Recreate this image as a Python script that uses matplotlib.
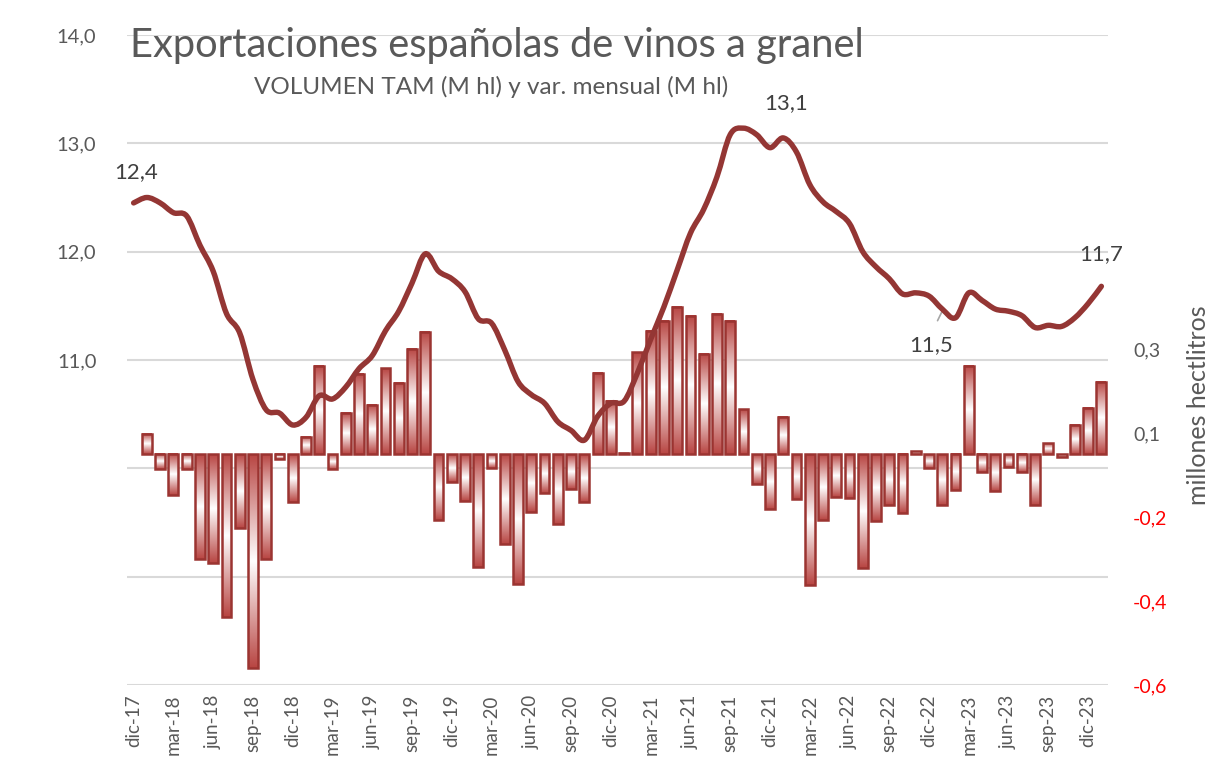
import numpy as np
import matplotlib
matplotlib.use("Agg")
import matplotlib.pyplot as plt
from matplotlib.path import Path
from matplotlib.patches import PathPatch, Rectangle
from matplotlib.colors import LinearSegmentedColormap

plt.rcParams['font.family'] = ['Lato', 'DejaVu Sans']

# categorias mensuales dic-17 ... ene-24
meses = ['ene', 'feb', 'mar', 'abr', 'may', 'jun', 'jul', 'ago', 'sep', 'oct', 'nov', 'dic']
categorias = ['dic-17'] + [f'{m}-{a}' for a in range(18, 24) for m in meses] + ['ene-24']

# volumen TAM (M hl), eje izquierdo
tam = [12.45, 12.50, 12.45, 12.36, 12.33, 12.06, 11.82, 11.43, 11.25, 10.82,
       10.54, 10.51, 10.40, 10.47, 10.67, 10.64, 10.75, 10.92, 11.04, 11.27,
       11.45, 11.71, 11.98, 11.82, 11.75, 11.63, 11.38, 11.34, 11.09, 10.80,
       10.68, 10.60, 10.43, 10.35, 10.26, 10.48, 10.60, 10.62, 10.88, 11.19,
       11.49, 11.83, 12.17, 12.39, 12.69, 13.08, 13.14, 13.08, 12.96, 13.05,
       12.92, 12.62, 12.46, 12.37, 12.26, 12.00, 11.86, 11.75, 11.61, 11.62,
       11.59, 11.47, 11.39, 11.62, 11.55, 11.47, 11.45, 11.41, 11.30, 11.32,
       11.31, 11.39, 11.52, 11.68]

# variacion mensual (M hl), eje derecho
var_mensual = [np.nan, 0.048, -0.036, -0.098, -0.036, -0.249, -0.259, -0.387, -0.176, -0.510,
               -0.249, -0.012, -0.114, 0.041, 0.211, -0.035, 0.099, 0.191, 0.117, 0.205,
               0.171, 0.251, 0.292, -0.157, -0.066, -0.112, -0.268, -0.033, -0.214, -0.308,
               -0.137, -0.091, -0.165, -0.083, -0.114, 0.195, 0.128, 0.004, 0.243, 0.294,
               0.318, 0.351, 0.330, 0.240, 0.334, 0.318, 0.107, -0.070, -0.131, 0.089,
               -0.107, -0.312, -0.157, -0.101, -0.103, -0.270, -0.159, -0.120, -0.141, 0.007,
               -0.033, -0.121, -0.086, 0.210, -0.043, -0.088, -0.030, -0.043, -0.121, 0.026,
               -0.007, 0.070, 0.111, 0.173]

# etiquetas de datos sobre la linea
etiq_idx = [0, 49, 61, 73]
etiq_txt = ['12,4', '13,1', '11,5', '11,7']

izq_ticks = [8, 9, 10, 11, 12, 13, 14]
izq_labels = ['', '', '', '11,0', '12,0', '13,0', '14,0']
der_ticks = [-0.55, -0.35, -0.15, 0.05, 0.25]
der_labels = ['-0,6', '-0,4', '-0,2', '0,1', '0,3']

gris = '#595959'
rojo_linea = '#943634'

fig = plt.figure(figsize=(12.24, 7.78), dpi=100)
ax = fig.add_axes([127 / 1224, 1 - 685 / 778, 981 / 1224, 650 / 778])
ax2 = ax.twinx()

n = len(categorias)
x = np.arange(n)

# barras con degradado
cmap = LinearSegmentedColormap.from_list('grad', ['#b84542', '#ffffff', '#b84542'])
grad = np.linspace(0, 1, 256).reshape(-1, 1)
w = 0.74
for i, v in enumerate(var_mensual):
    if np.isnan(v):
        continue
    ax2.imshow(grad, cmap=cmap, extent=(i - w / 2, i + w / 2, min(0, v), max(0, v)),
               aspect='auto', interpolation='bilinear', zorder=2)
    ax2.add_patch(Rectangle((i - w / 2, 0), w, v, fill=False, edgecolor='#9b3431',
                            linewidth=1.8, zorder=3))

# linea suavizada (bezier entre los puntos, como excel)
pts = np.column_stack([x, tam]).astype(float)
verts = [tuple(pts[0])]
codes = [Path.MOVETO]
for k in range(n - 1):
    p0 = pts[max(k - 1, 0)]
    p1 = pts[k]
    p2 = pts[k + 1]
    p3 = pts[min(k + 2, n - 1)]
    c1 = p1 + (p2 - p0) / 6
    c2 = p2 - (p3 - p1) / 6
    verts += [tuple(c1), tuple(c2), tuple(p2)]
    codes += [Path.CURVE4] * 3
ax2.add_patch(PathPatch(Path(verts, codes), facecolor='none', edgecolor=rojo_linea,
                        linewidth=3.9, capstyle='round', joinstyle='round',
                        transform=ax.transData, zorder=4))

# etiquetas de datos
offs = {0: (2, 22), 49: (2, 25), 61: (-8, -26), 73: (0, 23)}
for i, t in zip(etiq_idx, etiq_txt):
    dx, dy = offs[i]
    ax.annotate(t, (i, tam[i]), xytext=(dx, dy), textcoords='offset points',
                ha='center', va='center', fontsize=16, color='#404040')
ax.annotate('', (61 + 0.15, tam[61] + 0.02), xytext=(61 - 0.45, tam[61] - 0.13),
            arrowprops=dict(arrowstyle='-', color='#a6a6a6', lw=1.2))

# ejes
ax.set_xlim(-0.5, n - 0.5)
ax2.set_xlim(-0.5, n - 0.5)
ax.set_ylim(8, 14)
ax2.set_ylim(-0.55, 1.0)

ax.set_yticks(izq_ticks)
ax.set_yticklabels(izq_labels)
ax.grid(axis='y', color='#d9d9d9', linewidth=1.5)
ax.set_axisbelow(True)
ax.tick_params(axis='y', length=0, pad=22, labelsize=14.5, labelcolor=gris)

ax.set_xticks(x[::3])
ax.set_xticklabels(categorias[::3], rotation=90)
ax.tick_params(axis='x', length=0, pad=7, labelsize=13.5, labelcolor=gris)

ax2.set_yticks(der_ticks)
ax2.set_yticklabels(der_labels)
ax2.tick_params(axis='y', length=0, pad=18, labelsize=14)
for lab, v in zip(ax2.get_yticklabels(), der_ticks):
    lab.set_color('#ff0000' if v < 0 else gris)
ax2.set_ylabel('millones hectlitros', fontsize=18, color=gris)
ax2.yaxis.set_label_coords(1.081, 0.43)

for a in (ax, ax2):
    for s in a.spines.values():
        s.set_visible(False)

fig.text(130 / 1224, 1 - 57 / 778, 'Exportaciones españolas de vinos a granel',
         fontsize=28.7, color=gris, va='baseline', ha='left')
fig.text(491 / 1224, 1 - 94 / 778, 'VOLUMEN TAM (M hl) y var. mensual (M hl)',
         fontsize=17.5, color=gris, va='baseline', ha='center')

fig.savefig('out.png', dpi=100)
